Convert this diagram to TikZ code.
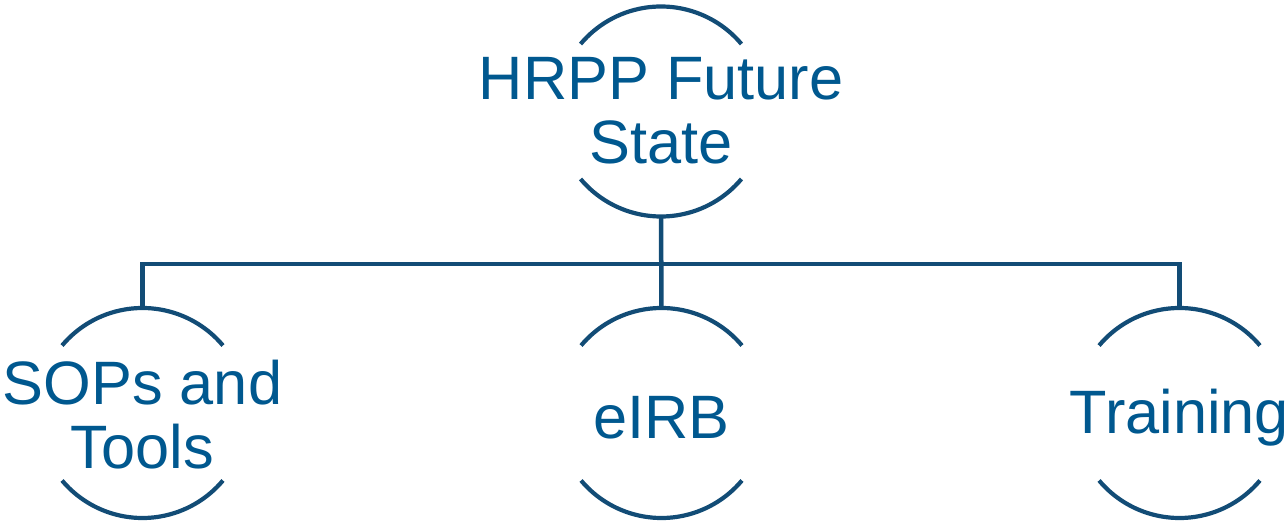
\documentclass[tikz,border=0pt]{standalone}
\usepackage{fontspec}
\setmainfont{Liberation Sans}
\definecolor{linec}{HTML}{124C76}
\definecolor{textc}{HTML}{00588F}
\begin{document}
\begin{tikzpicture}[x=1pt,y=1pt,
  ring/.style={circle,draw=none,minimum size=210pt,inner sep=0pt,outer sep=0pt},
  lbl/.style={text=textc,align=center,font=\fontsize{61.3}{64}\selectfont,inner sep=0pt},
  arcline/.style={draw=linec,line width=4.2pt},
  conn/.style={draw=linec,line width=4.5pt}]
\useasboundingbox (0,0) rectangle (1287,525);
\node[ring] (top) at (661,413.5) {};
\node[ring] (sop) at (142.5,112) {};
\node[ring] (eirb) at (661.5,112) {};
\node[ring] (trn) at (1179.5,112) {};
\foreach \n in {top,sop,eirb,trn}{
  \draw[arcline] (\n.40) arc[start angle=40,end angle=140,radius=105pt];
  \draw[arcline] (\n.220) arc[start angle=220,end angle=320,radius=105pt];
}
\node[lbl] (ttop) at ([yshift=1pt]top.center) {HRPP Future\\State};
\node[lbl] (tsop) at ([yshift=-2pt]sop.center) {SOPs and\\Tools};
\node[lbl] (teirb) at ([yshift=-5pt]eirb.center) {eIRB};
\node[lbl] (ttrn) at ([yshift=-5pt]trn.center) {Training};
\coordinate (bus) at (661,261);
\draw[conn] (top.south) -- (eirb.north);
\draw[conn] (sop.north) -- (sop.north |- bus) -- (trn.north |- bus) -- (trn.north);
\end{tikzpicture}
\end{document}
